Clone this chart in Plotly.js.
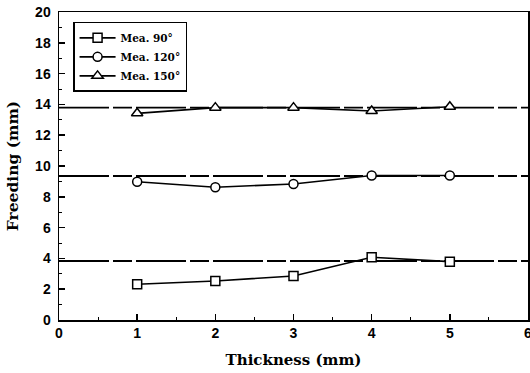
<!DOCTYPE html>
<html><head><meta charset="utf-8">
<script src="https://cdn.plot.ly/plotly-3.0.1.min.js"></script>
<style>html,body{margin:0;padding:0;background:#fff}</style>
</head><body>
<div id="chart" style="width:530px;height:373px"></div>
<script>
const thickness = [1, 2, 3, 4, 5];
const mea90 = [2.32, 2.53, 2.86, 4.07, 3.79];
const mea120 = [8.98, 8.62, 8.83, 9.38, 9.38];
const mea150 = [13.42, 13.79, 13.79, 13.57, 13.85];
const refX = [0, 6];
const ref90 = 3.83;
const ref120 = 9.35;
const ref150 = 13.79;
const names = ['Mea. 90°', 'Mea. 120°', 'Mea. 150°'];

const lineStyle = {color: '#000', width: 1.6};
const mk = (s, sz) => ({symbol: s, size: sz, color: '#fff', line: {color: '#000', width: 1.5}});
const refLine = y => ({x: refX, y: [y, y], mode: 'lines', showlegend: false,
  line: {color: '#000', width: 1.8, dash: '50px,4px,19px,4px'}, hoverinfo: 'skip'});

const data = [
  refLine(ref90), refLine(ref120), refLine(ref150),
  {x: thickness, y: mea90, name: names[0], mode: 'lines+markers', line: lineStyle, marker: mk('square', 9)},
  {x: thickness, y: mea120, name: names[1], mode: 'lines+markers', line: lineStyle, marker: mk('circle', 9)},
  {x: thickness, y: mea150, name: names[2], mode: 'lines+markers', line: lineStyle, marker: mk('triangle-up', 10)}
];

const tickFont = {family: 'Liberation Sans, Arial, sans-serif', size: 14, color: '#000', weight: 'bold'};
const titleFont = {family: 'DejaVu Serif, serif', size: 15, color: '#000', weight: 'bold'};

const layout = {
  width: 530, height: 373,
  margin: {l: 59, r: 2, t: 12, b: 53},
  paper_bgcolor: '#fff', plot_bgcolor: '#fff',
  showlegend: true,
  legend: {x: 0.03, y: 0.968, xanchor: 'left', yanchor: 'top', bgcolor: '#fff',
    bordercolor: '#000', borderwidth: 1.5,
    font: {family: 'DejaVu Serif, serif', size: 10.5, color: '#000', weight: 'bold'},
    tracegroupgap: 0, itemwidth: 36},
  xaxis: {range: [0, 6], dtick: 1, tick0: 0, ticks: 'inside', ticklen: 6, tickwidth: 1.5,
    tickcolor: '#000', showline: true, linecolor: '#000', linewidth: 1.5, mirror: true,
    showgrid: false, zeroline: false, tickfont: tickFont, ticklabeloverflow: 'allow',
    minor: {dtick: 0.5, ticks: 'inside', ticklen: 3, tickwidth: 1, tickcolor: '#000', showgrid: false},
    title: {text: 'Thickness (mm)', font: titleFont, standoff: 14}},
  yaxis: {range: [0, 20], dtick: 2, tick0: 0, ticks: 'inside', ticklen: 6, tickwidth: 1.5,
    tickcolor: '#000', showline: true, linecolor: '#000', linewidth: 1.5, mirror: true,
    showgrid: false, zeroline: false, tickfont: tickFont, ticklabelstandoff: 4,
    minor: {dtick: 1, ticks: 'inside', ticklen: 3, tickwidth: 1, tickcolor: '#000', showgrid: false},
    title: {text: 'Freeding (mm)', font: {family: 'DejaVu Serif, serif', size: 15.5, color: '#000', weight: 'bold'}, standoff: 12}}
};

Plotly.newPlot('chart', data, layout, {displayModeBar: false, staticPlot: true});
</script>
</body></html>
